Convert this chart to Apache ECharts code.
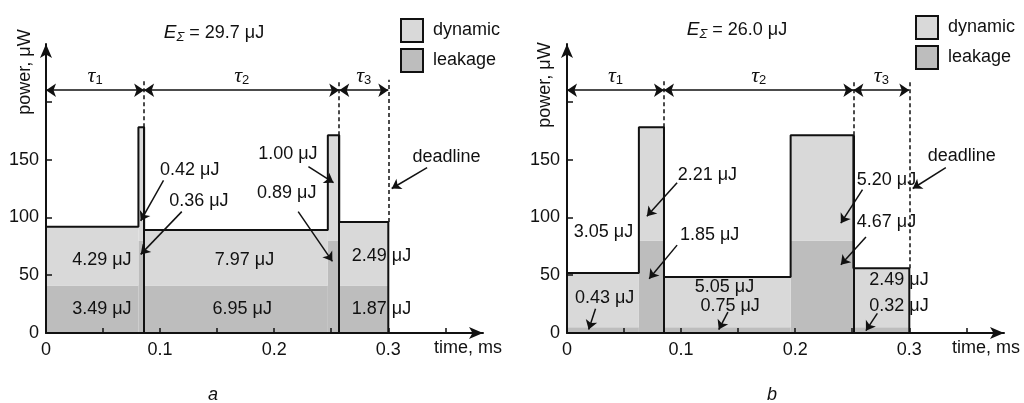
<!DOCTYPE html>
<html>
<head>
<meta charset="utf-8">
<script src="https://cdn.jsdelivr.net/npm/echarts@6/dist/echarts.min.js"></script>
<style>
  html, body { margin: 0; padding: 0; background: #fff; }
  #chart { width: 1024px; height: 403px; }
</style>
</head>
<body>
<div id="chart"></div>
<script>
// panel a: segments (ms) with leakage and total power (uW)
const aStart = [0, 0.081, 0.086, 0.247, 0.257];
const aEnd = [0.081, 0.086, 0.247, 0.257, 0.3];
const aLeak = [41, 80, 41, 80, 41];
const aTotal = [92, 178, 89, 171, 96];
const aTau = [0, 0.086, 0.257, 0.3];

// panel b
const bStart = [0, 0.063, 0.085, 0.196, 0.251];
const bEnd = [0.063, 0.085, 0.196, 0.251, 0.3];
const bLeak = [5, 80, 5, 80, 5];
const bTotal = [52, 178, 48.5, 171, 56];
const bTau = [0, 0.085, 0.251, 0.3];

// energy notes: text, t, power
const aNotes = [
  ['0.42 μJ', 0.126, 141], ['0.36 μJ', 0.134, 114], ['1.00 μJ', 0.212, 155],
  ['0.89 μJ', 0.211, 121], ['deadline', 0.351, 152], ['4.29 μJ', 0.049, 63],
  ['3.49 μJ', 0.049, 21], ['7.97 μJ', 0.174, 63], ['6.95 μJ', 0.172, 21],
  ['2.49 μJ', 0.294, 67], ['1.87 μJ', 0.294, 21]
];
const bNotes = [
  ['2.21 μJ', 0.123, 137], ['3.05 μJ', 0.032, 87], ['1.85 μJ', 0.125, 85],
  ['5.20 μJ', 0.280, 132], ['4.67 μJ', 0.280, 96], ['deadline', 0.346, 153],
  ['0.43 μJ', 0.033, 30], ['5.05 μJ', 0.138, 40], ['0.75 μJ', 0.143, 23],
  ['2.49 μJ', 0.291, 46], ['0.32 μJ', 0.291, 23]
];
// pointer arrows: from t, from P, to t, to P
const aArrows = [
  [0.103, 132, 0.083, 97], [0.119, 105, 0.083, 68], [0.230, 144, 0.252, 130],
  [0.221, 105, 0.251, 62], [0.334, 143, 0.303, 125]
];
const bArrows = [
  [0.0965, 130, 0.070, 101], [0.0965, 76, 0.072, 47], [0.259, 124, 0.240, 95],
  [0.262, 83, 0.240, 59], [0.332, 143, 0.303, 125], [0.025, 21, 0.019, 3],
  [0.141, 18, 0.133, 3], [0.272, 17, 0.262, 2]
];
const energyTotals = ['29.7', '26.0'];

const xLabels = [0, 0.1, 0.2, 0.3];
const xTicks = [0.05, 0.1, 0.15, 0.2, 0.25, 0.3, 0.35];
const yLabels = [0, 50, 100, 150];
const yTicks = [50, 100, 150, 200];

const FONT = 'Liberation Sans';
const INK = '#111';
const LIGHT = '#d9d9d9';
const DARK = '#bdbdbd';
const DIM_Y = 210;   // level of the tau dimension arrows
const DASH_TOP = 219;

const chart = echarts.init(document.getElementById('chart'));

function renderBlock(params, api) {
  const lt = api.coord([api.value(0), api.value(3)]);
  const rb = api.coord([api.value(1), api.value(2)]);
  return {
    type: 'rect',
    shape: { x: lt[0], y: lt[1], width: rb[0] - lt[0], height: rb[1] - lt[1] },
    style: { fill: api.visual('color') }
  };
}

function outline(start, end, total) {
  const pts = [[start[0], 0]];
  start.forEach((s, i) => { pts.push([s, total[i]], [end[i], total[i]]); });
  pts.push([end[end.length - 1], 0]);
  return pts;
}

function topAt(t, start, end, total) {
  let m = 0;
  start.forEach((s, i) => {
    if (Math.abs(s - t) < 1e-6 || Math.abs(end[i] - t) < 1e-6) m = Math.max(m, total[i]);
  });
  return m;
}

const tauRich = {
  t: { fontFamily: 'Liberation Serif', fontStyle: 'italic', fontSize: 22, lineHeight: 22, color: INK },
  s: { fontFamily: FONT, fontSize: 13, lineHeight: 13, verticalAlign: 'bottom', color: INK }
};

function panelSeries(gi, start, end, leak, total, tau, notes, arrows) {
  const solid = tau.slice(1, -1).map(t => [
    { coord: [t, 0] }, { coord: [t, topAt(t, start, end, total)] }
  ]);
  const dashed = tau.slice(1).map(t => [
    { coord: [t, topAt(t, start, end, total)], lineStyle: { type: [4, 3], width: 1.5 } },
    { coord: [t, DASH_TOP] }
  ]);
  const dims = tau.slice(0, -1).map((t, i) => [
    {
      coord: [t, DIM_Y], symbol: 'arrow', symbolSize: 10, lineStyle: { width: 1.5 },
      label: { show: true, position: 'insideMiddleTop', distance: 3, formatter: '{t|τ}{s|' + (i + 1) + '}', rich: tauRich }
    },
    { coord: [tau[i + 1], DIM_Y], symbol: 'arrow', symbolSize: 10 }
  ]);
  return [
    {
      name: 'leakage', type: 'custom', xAxisIndex: gi, yAxisIndex: gi,
      itemStyle: { color: DARK }, renderItem: renderBlock, encode: { x: [0, 1], y: [2, 3] },
      data: start.map((s, i) => [s, end[i], 0, leak[i]])
    },
    {
      name: 'dynamic', type: 'custom', xAxisIndex: gi, yAxisIndex: gi,
      itemStyle: { color: LIGHT }, renderItem: renderBlock, encode: { x: [0, 1], y: [2, 3] },
      data: start.map((s, i) => [s, end[i], leak[i], total[i]])
    },
    {
      name: 'outline', type: 'line', xAxisIndex: gi, yAxisIndex: gi,
      symbol: 'none', lineStyle: { color: INK, width: 2 },
      data: outline(start, end, total),
      markLine: {
        silent: true, symbol: ['none', 'none'], label: { show: false },
        lineStyle: { color: INK, width: 2, type: 'solid' },
        emphasis: { disabled: true },
        data: solid.concat(dashed, dims)
      }
    },
    {
      name: 'notes', type: 'scatter', xAxisIndex: gi, yAxisIndex: gi,
      symbolSize: 1, itemStyle: { color: 'rgba(0,0,0,0)' },
      label: {
        show: true, position: 'inside', formatter: '{b}', fontSize: 18, fontFamily: FONT,
        color: INK, textBorderWidth: 0, textBorderColor: 'transparent', opacity: 1
      },
      data: notes.map(n => ({ name: n[0], value: [n[1], n[2]] })),
      markLine: {
        silent: true, symbol: ['none', 'arrow'], symbolSize: 9, label: { show: false },
        lineStyle: { color: INK, width: 1.5, type: 'solid' },
        emphasis: { disabled: true },
        data: arrows.map(a => [{ coord: [a[0], a[1]] }, { coord: [a[2], a[3]] }])
      }
    }
  ];
}

function makeXAxis(gi) {
  return {
    gridIndex: gi, type: 'value', min: 0, max: 0.383, z: 5,
    axisLine: { lineStyle: { color: INK, width: 2 }, symbol: ['none', 'arrow'], symbolSize: [9, 14] },
    axisTick: { show: true, inside: true, length: 5, lineStyle: { color: INK, width: 1.5 }, customValues: xTicks },
    axisLabel: { customValues: xLabels, formatter: v => String(v), color: INK, fontSize: 18, fontFamily: FONT, margin: 8 },
    splitLine: { show: false }
  };
}

function makeYAxis(gi) {
  return {
    gridIndex: gi, type: 'value', min: 0, max: 250, z: 5,
    axisLine: { show: true, lineStyle: { color: INK, width: 2 }, symbol: ['none', 'arrow'], symbolSize: [9, 14] },
    axisTick: { show: true, inside: true, length: 6, lineStyle: { color: INK, width: 1.5 }, customValues: yTicks },
    axisLabel: { customValues: yLabels, color: INK, fontSize: 18, fontFamily: FONT, margin: 7 },
    splitLine: { show: false }
  };
}

function makeLegend(left, top) {
  return {
    data: ['dynamic', 'leakage'], left: left, top: top, orient: 'vertical',
    icon: 'rect', itemWidth: 22, itemHeight: 23, itemGap: 5, selectedMode: false,
    itemStyle: { borderColor: INK, borderWidth: 2 },
    textStyle: { fontSize: 18, fontFamily: FONT, color: INK, padding: [0, 0, 0, 5] }
  };
}

const eRich = {
  e: { fontFamily: FONT, fontStyle: 'italic', fontSize: 19, lineHeight: 22, fill: INK },
  s: { fontFamily: FONT, fontStyle: 'italic', fontSize: 13, lineHeight: 13, verticalAlign: 'bottom', fill: INK },
  n: { fontFamily: FONT, fontSize: 18, lineHeight: 22, fill: INK }
};

function text(x, y, str, extra) {
  return {
    type: 'text', x: x, y: y, silent: true,
    style: Object.assign({ text: str, fontSize: 18, fontFamily: FONT, fill: INK, align: 'center', verticalAlign: 'middle' }, extra || {})
  };
}

const option = {
  animation: false,
  backgroundColor: '#fff',
  grid: [
    { left: 46, top: 44, width: 437, height: 289 },
    { left: 567, top: 44, width: 437, height: 289 }
  ],
  xAxis: [makeXAxis(0), makeXAxis(1)],
  yAxis: [makeYAxis(0), makeYAxis(1)],
  legend: [makeLegend(395, 13), makeLegend(910, 10)],
  graphic: [
    text(214, 33, '{e|E}{s|Σ}{n| = ' + energyTotals[0] + ' μJ}', { rich: eRich }),
    text(737, 30, '{e|E}{s|Σ}{n| = ' + energyTotals[1] + ' μJ}', { rich: eRich }),
    Object.assign(text(25, 72, 'power, μW'), { rotation: Math.PI / 2 }),
    Object.assign(text(545, 85, 'power, μW'), { rotation: Math.PI / 2 }),
    text(502, 348, 'time, ms', { align: 'right' }),
    text(1020, 348, 'time, ms', { align: 'right' }),
    text(213, 395, 'a', { fontStyle: 'italic' }),
    text(772, 395, 'b', { fontStyle: 'italic' })
  ],
  series: panelSeries(0, aStart, aEnd, aLeak, aTotal, aTau, aNotes, aArrows)
    .concat(panelSeries(1, bStart, bEnd, bLeak, bTotal, bTau, bNotes, bArrows))
};

chart.setOption(option);
</script>
</body>
</html>
